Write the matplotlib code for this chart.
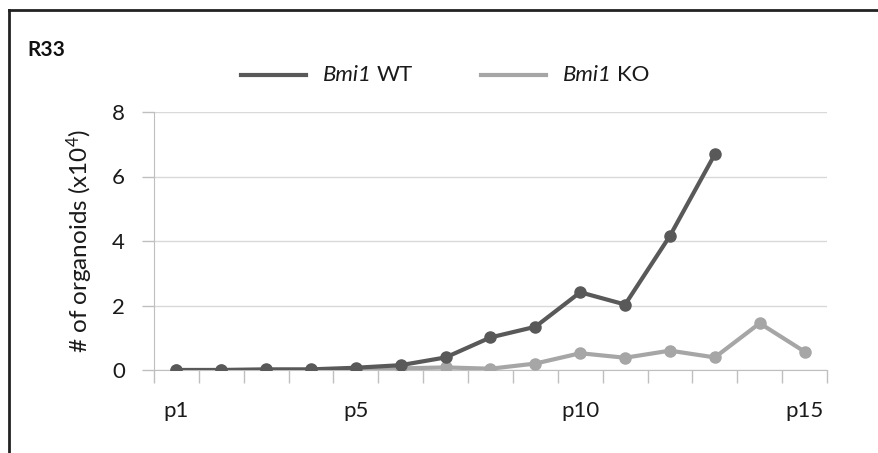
import matplotlib.pyplot as plt
from matplotlib.lines import Line2D

plt.rcParams['font.family'] = ['Lato', 'DejaVu Sans']
plt.rcParams['mathtext.fontset'] = 'custom'
plt.rcParams['mathtext.rm'] = 'Lato'
plt.rcParams['mathtext.it'] = 'Lato:italic'

passages = [f"p{i}" for i in range(1, 16)]
shown_labels = {"p1", "p5", "p10", "p15"}
wt_values = [0.0, 0.0, 0.02, 0.02, 0.07, 0.15, 0.39, 1.01, 1.34, 2.41, 2.03, 4.16, 6.69]
ko_values = [0.0, 0.0, 0.0, 0.0, 0.02, 0.05, 0.08, 0.04, 0.2, 0.52, 0.38, 0.6, 0.39, 1.45, 0.57]
y_ticks = [0, 2, 4, 6, 8]
series_names = [("Bmi1", "WT"), ("Bmi1", "KO")]

WT_COLOR = "#595959"
KO_COLOR = "#a6a6a6"
GRID_COLOR = "#d9d9d9"
TEXT_COLOR = "#1a1a1a"

W, H = 879, 453
fig = plt.figure(figsize=(W / 100, H / 100), dpi=100)
ax = fig.add_axes([154 / W, 1 - 370 / H, (827 - 154) / W, (370 - 112) / H])

x_ko = list(range(len(ko_values)))
x_wt = list(range(len(wt_values)))
ax.plot(x_ko, ko_values, color=KO_COLOR, lw=3, marker="o", ms=8, zorder=3)
ax.plot(x_wt, wt_values, color=WT_COLOR, lw=3, marker="o", ms=8, zorder=4)

ax.set_xlim(-0.5, len(passages) - 0.5)
ax.set_ylim(0, 8)
ax.set_yticks(y_ticks)
ax.set_yticklabels([str(v) for v in y_ticks], fontsize=16, color=TEXT_COLOR)
ax.tick_params(axis="y", length=9, width=1, color="#bfbfbf", pad=12)

# category labels sit between tick marks
ax.set_xticks(x_ko)
ax.set_xticklabels([p if p in shown_labels else "" for p in passages],
                   fontsize=16, color=TEXT_COLOR)
ax.tick_params(axis="x", length=0, pad=22)
ax.set_xticks([i + 0.5 for i in range(-1, len(passages))], minor=True)
ax.tick_params(axis="x", which="minor", length=9, width=1, color="#bfbfbf")

ax.grid(axis="y", color=GRID_COLOR, lw=1)
ax.set_axisbelow(True)
for side in ("top", "right"):
    ax.spines[side].set_visible(False)
ax.spines["left"].set_color("#bfbfbf")
ax.spines["bottom"].set_color("#bfbfbf")

ax.set_ylabel(r"# of organoids (x10$^{4}$)", fontsize=17.5,
              color=TEXT_COLOR, labelpad=12)

# legend: line sample, italic gene name, regular genotype
legend_y = 1 - 75 / H
for (gene, geno), color, x0 in zip(series_names, [WT_COLOR, KO_COLOR], [241, 481]):
    fig.add_artist(Line2D([x0 / W, (x0 + 65) / W], [legend_y, legend_y],
                          transform=fig.transFigure, color=color, lw=3))
    t = fig.text((x0 + 82) / W, legend_y, gene, fontsize=16, style="italic",
                 ha="left", va="center", color=TEXT_COLOR)
    fig.canvas.draw()
    bb = t.get_window_extent()
    fig.text(bb.x1 / W + 5 / W, legend_y, geno, fontsize=16,
             ha="left", va="center", color=TEXT_COLOR)

fig.text(27 / W, 1 - 50 / H, "R33", fontsize=15, fontweight="bold",
         ha="left", va="center", color="#111111")

# outer frame (top and left edges)
fig.add_artist(Line2D([9 / W, 9 / W], [0, 1 - 10 / H], transform=fig.transFigure,
                      color="#222222", lw=2))
fig.add_artist(Line2D([9 / W, 1], [1 - 10 / H, 1 - 10 / H], transform=fig.transFigure,
                      color="#222222", lw=2))

fig.savefig("out.png", dpi=100, facecolor="white")
